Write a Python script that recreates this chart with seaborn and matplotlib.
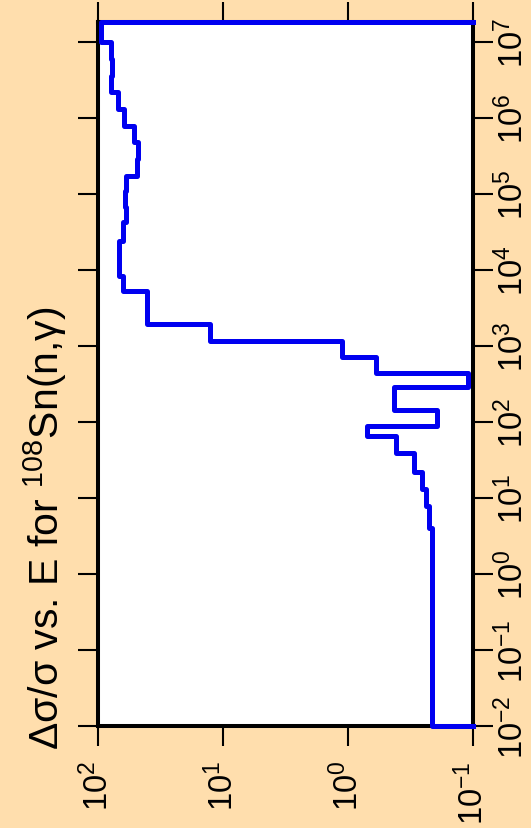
import matplotlib
matplotlib.use("Agg")
import matplotlib.pyplot as plt
from matplotlib.ticker import NullLocator, LogFormatterSciNotation
import numpy as np
import pandas as pd
import seaborn as sns

# Group boundaries in energy (eV), lowest to highest
energy_edges = [0.01, 0.52, 4.0, 7.9, 13.1, 21.8, 39.1, 66.0, 87.7, 144.0, 292.0,
                437.0, 723.0, 1175.0, 1946.0, 5.3e3, 8.3e3, 2.41e4, 4.28e4, 6.74e4,
                1.09e5, 1.73e5, 2.89e5, 4.83e5, 7.85e5, 1.31e6, 2.2e6, 3.57e6,
                6.0e6, 1.0e7, 1.85e7]

# Relative uncertainty (percent) in each group
rel_unc = [0.211, 0.214, 0.225, 0.238, 0.257, 0.296, 0.413, 0.708, 0.193, 0.426,
           0.109, 0.600, 1.11, 12.7, 40.6, 62.8, 67.9, 63.1, 59.7, 60.5,
           59.7, 48.8, 47.6, 51.8, 61.6, 68.8, 78.3, 77.3, 79.1, 95.1]

unc_range = (100.0, 0.1)
energy_range = (0.01, 1.85e7)
decade_ticks_unc = [100.0, 10.0, 1.0, 0.1]
decade_ticks_energy = [1e-2, 1e-1, 1e0, 1e1, 1e2, 1e3, 1e4, 1e5, 1e6, 1e7]

title_text = r"Δσ/σ vs. E for $^{108}$Sn(n,γ)"

# Histogram outline, closed down to the base of the uncertainty axis
base = min(unc_range)
pts_e = [energy_edges[0]]
pts_u = [base]
for i, v in enumerate(rel_unc):
    pts_e += [energy_edges[i], energy_edges[i + 1]]
    pts_u += [v, v]
pts_e.append(energy_edges[-1])
pts_u.append(base)
outline = pd.DataFrame({"energy": pts_e, "unc": pts_u})

plt.rcParams["font.family"] = ["Liberation Sans", "DejaVu Sans"]
plt.rcParams["mathtext.fontset"] = "custom"
plt.rcParams["mathtext.rm"] = "Liberation Sans"
plt.rcParams["mathtext.it"] = "Liberation Sans:italic"
plt.rcParams["mathtext.default"] = "regular"

bg = "#FFDEAD"
W, H = 531, 829
fig = plt.figure(figsize=(W / 100, H / 100), dpi=100, facecolor=bg)
ax = fig.add_axes([98 / W, 1 - 727 / H, 375 / W, 704 / H])
ax.set_facecolor("white")

sns.lineplot(data=outline, x="unc", y="energy", sort=False, estimator=None,
             color="#0000F0", linewidth=3.6, ax=ax, clip_on=False, zorder=5)

ax.set_xscale("log")
ax.set_yscale("log")
ax.set_xlim(*unc_range)
ax.set_ylim(*energy_range)
ax.set_xlabel("")
ax.set_ylabel("")

ax.xaxis.set_major_locator(plt.FixedLocator(decade_ticks_unc))
ax.yaxis.set_major_locator(plt.FixedLocator(decade_ticks_energy))
ax.xaxis.set_major_formatter(LogFormatterSciNotation())
ax.yaxis.set_major_formatter(LogFormatterSciNotation())
ax.xaxis.set_minor_locator(NullLocator())
ax.yaxis.set_minor_locator(NullLocator())

for s in ax.spines.values():
    s.set_linewidth(2.9)
    s.set_color("black")

ax.tick_params(axis="both", which="major", direction="out", length=14.5,
               width=1.5, color="black", labelsize=23.5, labelcolor="black")
ax.tick_params(axis="y", left=True, right=True, labelleft=False,
               labelright=True, labelrotation=90, pad=2)
ax.tick_params(axis="x", bottom=True, top=True, labelbottom=True,
               labeltop=False, labelrotation=90, pad=10)
for lab in ax.get_yticklabels():
    lab.set_va("center")
    lab.set_ha("left")
for lab in ax.get_xticklabels():
    lab.set_ha("center")
    lab.set_va("top")

fig.text(45 / W, 1 - 528 / H, title_text, rotation=90, ha="center",
         va="center", fontsize=29.5, color="black")

fig.savefig("out.png", dpi=100, facecolor=bg)
